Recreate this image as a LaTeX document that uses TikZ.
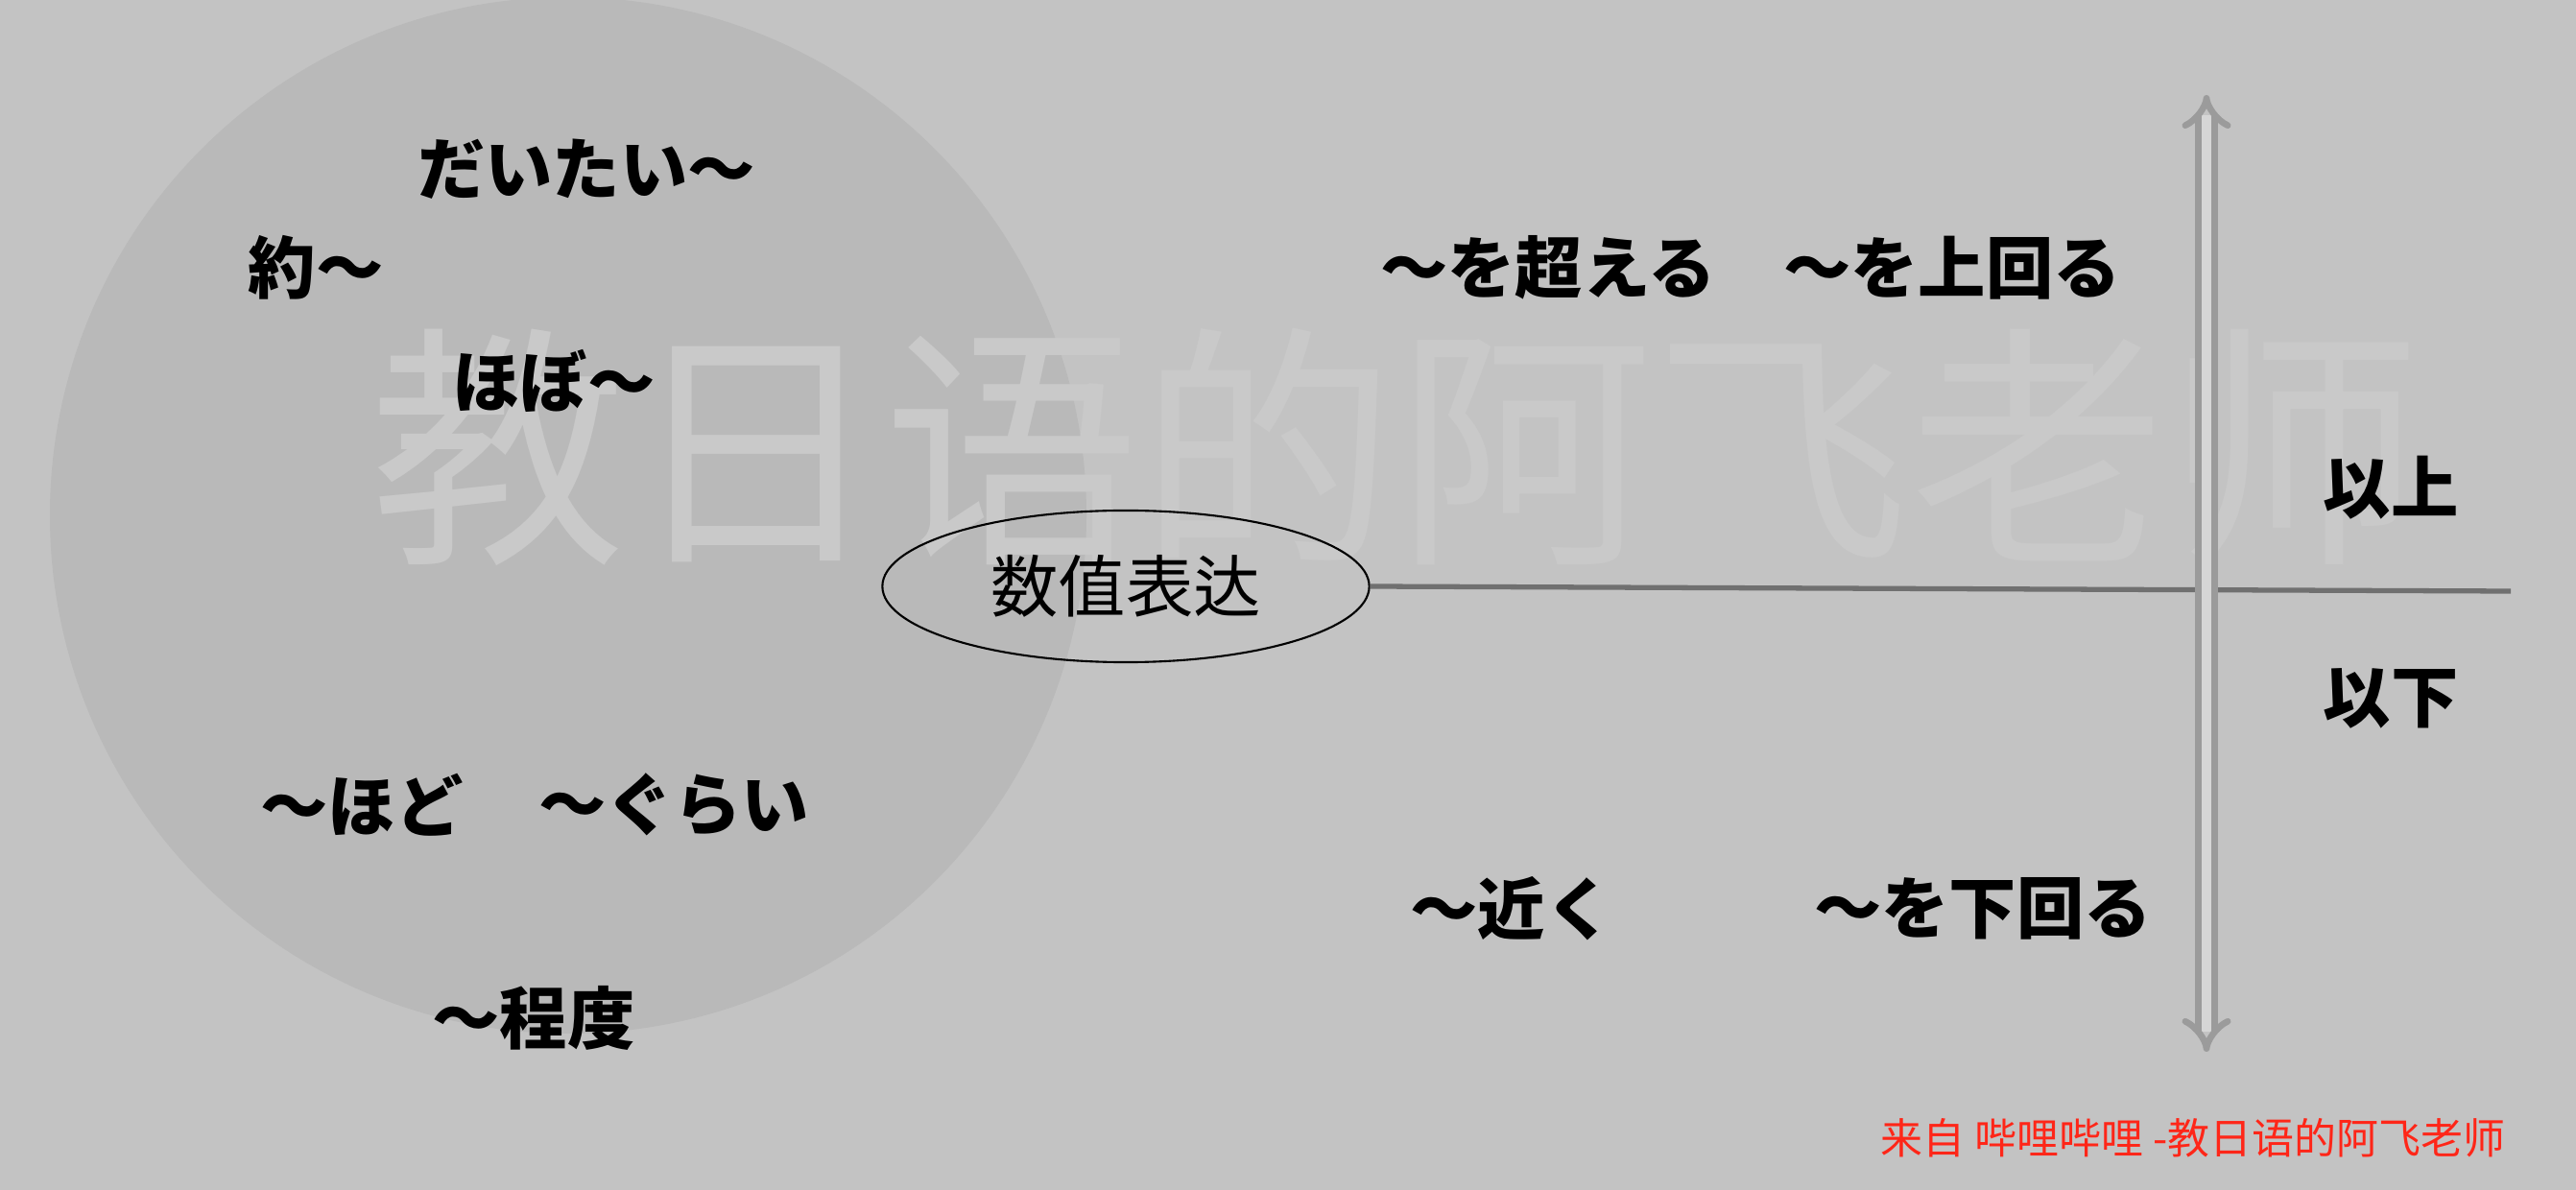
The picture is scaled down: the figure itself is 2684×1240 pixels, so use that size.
\documentclass[tikz,border=0pt]{standalone}
\usepackage{fontspec}
\usetikzlibrary{shapes.geometric,arrows.meta}
\newfontfamily\jpfont{Noto Sans CJK JP}
\newfontfamily\scfont{Noto Sans CJK SC}
\definecolor{Slide}{RGB}{195,195,195}
\definecolor{Disc}{RGB}{185,185,185}
\definecolor{Ghost}{RGB}{201,201,201}
\definecolor{Axis}{RGB}{112,112,112}
\definecolor{ArrowRim}{RGB}{155,155,155}
\definecolor{ArrowCore}{RGB}{214,214,214}
\definecolor{Credit}{RGB}{255,38,24}

\begin{document}
\begin{tikzpicture}[x=0.01cm, y=-0.01cm]
			\tikzstyle{every node}=[inner sep=0pt, align=center, font=\jpfont\bfseries\fontsize{20}{24}\selectfont];
			\useasboundingbox [clip] (0, 0) rectangle (2684, 1240);
			\fill [Slide] (0, 0) rectangle (2684, 1240);
			\fill [Disc] (592, 537) circle (540);
			\node [text=Ghost, font=\scfont\fontsize{76}{80}\selectfont] (ghost) at (1455, 466) {教日语的阿飞老师};
			% approximate expressions
			\node (daitai) at (611, 176) {だいたい～};
			\node (yaku) at (329, 279) {約～};
			\node (hobo) at (577, 397) {ほぼ～};
			\node (hodo) at (377, 839) {～ほど};
			\node (gurai) at (702, 839) {～ぐらい};
			\node (teido) at (556, 1061) {～程度};
			% centre
			\node [draw, shape=ellipse, line width=0.6pt, minimum width=5.07cm, minimum height=1.58cm, font=\jpfont\fontsize{20}{24}\selectfont] (value) at (1173, 611) {数值表达};
			\coordinate (axisend) at (2616, 616);
			\draw [Axis, line width=1.5pt] (value.east) -- (axisend);
			\coordinate (top) at (2299, 99);
			\coordinate (bottom) at (2299, 1096);
			\draw [{Implies}-{Implies}, draw=ArrowRim, double=ArrowCore, double distance=0.1cm, line width=1.9pt] (top) -- (bottom);
			% above / below
			\node (koeru) at (1613, 279) {～を超える};
			\node (uwamawaru) at (2034, 279) {～を上回る};
			\node (ijou) at (2491, 508) {以上};
			\node (ika) at (2491, 728) {以下};
			\node (chikaku) at (1575, 947) {～近く};
			\node (shitamawaru) at (2066, 947) {～を下回る};
			\node [text=Credit, font=\scfont\fontsize{12.5}{15}\selectfont] (credit) at (2285, 1186) {来自 哔哩哔哩 -教日语的阿飞老师};
		\end{tikzpicture}
\end{document}
